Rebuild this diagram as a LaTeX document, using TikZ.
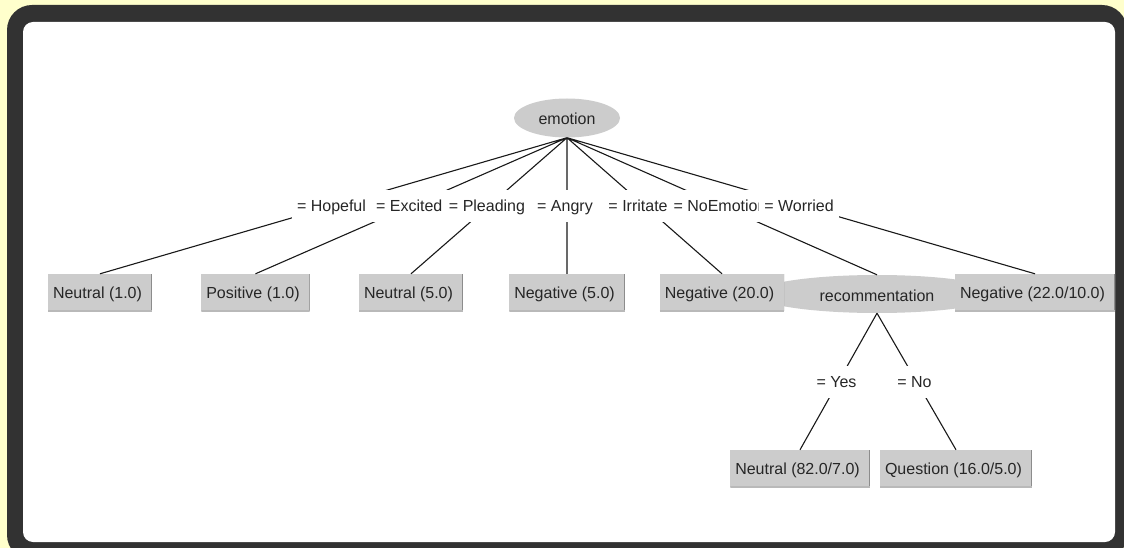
\documentclass[tikz,border=0pt]{standalone}
\usepackage{fontspec}
\setmainfont{Liberation Sans}
\usepackage{xcolor}
\usepackage{tikz}
\usetikzlibrary{shapes,shapes.geometric}

\definecolor{bgyellow}{RGB}{255,255,204}
\definecolor{framegray}{RGB}{50,50,50}
\definecolor{nodegray}{RGB}{204,204,204}

\tikzset{
  treefont/.style={font=\fontsize{16}{19}\selectfont, text=black!85},
  leaf/.style={treefont, fill=nodegray, inner xsep=5pt, inner ysep=0pt, minimum height=37pt,
    text height=13pt, text depth=2pt,
    execute at end node={\hspace{5pt}},
    path picture={\draw[gray!90, line width=1.4pt] (path picture bounding box.north east) -- (path picture bounding box.south east);
                  \draw[gray!55, line width=1.2pt] (path picture bounding box.south west) -- (path picture bounding box.south east);}},
  attr/.style={treefont, ellipse, fill=nodegray, inner sep=0pt, text height=14pt, text depth=0pt},
  val/.style={treefont, fill=white, inner xsep=5.5pt, inner ysep=0pt, minimum height=32pt,
    text height=13pt, text depth=2pt, xshift=-2pt},
  edge/.style={draw=black!90, line width=1.1pt}
}

\begin{document}
\begin{tikzpicture}[x=1pt,y=-1pt]

\useasboundingbox (0,0) rectangle (1124,548);
\clip (0,0) rectangle (1124,548);

% background and frame
\fill[bgyellow] (0,0) rectangle (1124,548);
\fill[framegray, rounded corners=25pt] (7,5) rectangle (1127,560);
\fill[white, rounded corners=10pt] (23,22) rectangle (1115,542);

% attribute nodes
\node[attr, minimum width=106pt, minimum height=39pt] (emotion) at (567,118) {emotion};
\node[attr, minimum width=244pt, minimum height=38pt] (recommentation) at (877,294) {recommentation};

% leaves
\node[leaf] (neutralA) at (100,292.5) {Neutral (1.0)};
\node[leaf] (positiveA) at (255.5,292.5) {Positive (1.0)};
\node[leaf] (neutralB) at (411,292.5) {Neutral (5.0)};
\node[leaf] (negativeA) at (567,292.5) {Negative (5.0)};
\node[leaf] (negativeB) at (722,292.5) {Negative (20.0)};
\node[leaf] (negativeC) at (1035,292.5) {Negative (22.0/10.0)};
\node[leaf] (neutralC) at (800,468.5) {Neutral (82.0/7.0)};
\node[leaf] (question) at (956,468.5) {Question (16.0/5.0)};

% branches
\path[edge]
  (emotion.south) -- node[val] {= Hopeful} (neutralA.north)
  (emotion.south) -- node[val] {= Excited} (positiveA.north)
  (emotion.south) -- node[val] {= Pleading} (neutralB.north)
  (emotion.south) -- node[val] {= Angry} (negativeA.north)
  (emotion.south) -- node[val] {= Irritated} (negativeB.north)
  (emotion.south) -- node[val] {= NoEmotion} (recommentation.north)
  (emotion.south) -- node[val] {= Worried} (negativeC.north)
  (recommentation.south) -- node[val] {= Yes} (neutralC.north)
  (recommentation.south) -- node[val] {= No} (question.north);

\end{tikzpicture}
\end{document}
